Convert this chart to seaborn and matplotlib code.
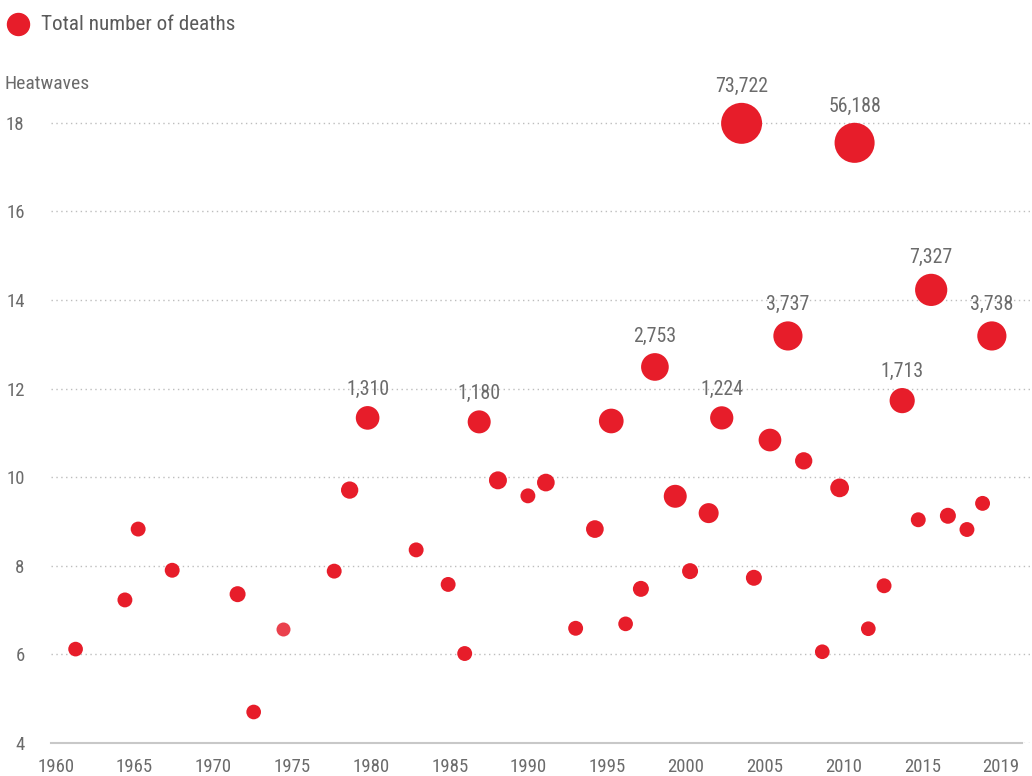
import matplotlib
matplotlib.use('Agg')
import matplotlib.pyplot as plt
from matplotlib.colors import LogNorm
from matplotlib.lines import Line2D
import numpy as np
import pandas as pd
import seaborn as sns

# Heatwave events: position in time (decimal year), heatwave count, total deaths
years = [1961.26, 1964.39, 1965.23, 1967.39, 1971.54, 1972.56, 1974.42, 1977.67,
         1978.65, 1979.79, 1982.87, 1984.90, 1985.95, 1986.87, 1988.06, 1989.96,
         1991.10, 1992.99, 1994.21, 1995.25, 1996.16, 1997.13, 1998.02, 1999.31,
         2000.25, 2001.43, 2002.26, 2003.52, 2004.30, 2005.32, 2006.46, 2007.46,
         2008.64, 2009.74, 2010.69, 2011.56, 2012.56, 2013.71, 2014.73, 2015.55,
         2016.61, 2017.82, 2018.81, 2019.40]
heatwaves = [6.12, 7.23, 8.83, 7.90, 7.36, 4.70, 6.58, 7.88,
             9.71, 11.34, 8.36, 7.58, 6.02, 11.25, 9.93, 9.58,
             9.88, 6.59, 8.83, 11.27, 6.69, 7.48, 12.49, 9.57,
             7.88, 9.19, 11.34, 17.99, 7.73, 10.84, 13.19, 10.37,
             6.06, 9.76, 17.55, 6.58, 7.55, 11.73, 9.04, 14.23,
             9.13, 8.82, 9.41, 13.19]
deaths = [380, 390, 390, 390, 440, 380, 355, 390,
          515, 1310, 390, 390, 390, 1180, 560, 390,
          540, 390, 540, 1570, 380, 440, 2753, 1170,
          440, 740, 1224, 73722, 440, 1120, 3737, 515,
          380, 620, 56188, 380, 390, 1713, 390, 7327,
          440, 390, 390, 3738]

# events whose death toll is printed above the bubble
labelled = [1979.79, 1986.87, 1998.02, 2002.26, 2003.52, 2006.46,
            2010.69, 2013.71, 2015.55, 2019.40]
faded = [1974.42]

tick_years = [1960, 1965, 1970, 1975, 1980, 1985, 1990, 1995, 2000, 2005,
              2010, 2015, 2019.99]
tick_labels = ['1960', '1965', '1970', '1975', '1980', '1985', '1990', '1995',
               '2000', '2005', '2010', '2015', '2019']
y_ticks = [4, 6, 8, 10, 12, 14, 16, 18]

df = pd.DataFrame({'year': years, 'heatwaves': heatwaves, 'deaths': deaths})

RED = '#e71d2a'
GREY = '#6b6b6b'

sns.set_style('white')
plt.rcParams['font.family'] = ['Roboto Condensed', 'Roboto', 'DejaVu Sans']

fig = plt.figure(figsize=(10.32, 7.76), dpi=100)
ax = fig.add_axes([51 / 1032, 1 - 743 / 776, (1030 - 51) / 1032, (743 - 60) / 776])

norm = LogNorm(vmin=355, vmax=73722)
size_range = (101.6, 871)

is_faded = df['year'].isin(faded)
sns.scatterplot(data=df[~is_faded], x='year', y='heatwaves', size='deaths',
                sizes=size_range, size_norm=norm, color=RED, linewidth=0,
                legend=False, ax=ax, zorder=3, clip_on=False)
sns.scatterplot(data=df[is_faded], x='year', y='heatwaves', size='deaths',
                sizes=size_range, size_norm=norm, color='#ea414d', linewidth=0,
                legend=False, ax=ax, zorder=3, clip_on=False)

# death toll labels
for _, row in df[df['year'].isin(labelled)].iterrows():
    area = size_range[0] + np.clip(norm(row['deaths']), 0, 1) * (size_range[1] - size_range[0])
    r = np.sqrt(area) / 2
    ax.annotate(f"{int(row['deaths']):,}", (row['year'], row['heatwaves']),
                xytext=(0, r + 8), textcoords='offset points', ha='center',
                va='baseline', fontsize=14.3, color=GREY)

ax.set_xlim(1959.7, 2021.82)
ax.set_ylim(4, 19.42)
ax.set_xticks(tick_years, tick_labels)
ax.set_yticks(y_ticks)
ax.set_xlabel('')
ax.set_ylabel('')
ax.tick_params(length=0, labelsize=13.5, colors=GREY)
ax.tick_params(axis='x', pad=11)
ax.tick_params(axis='y', pad=19)

ax.yaxis.grid(True, color='#bdbdbd', linestyle=(0, (1, 2.5)), linewidth=1)
ax.xaxis.grid(False)
ax.set_axisbelow(True)
for side in ['left', 'top', 'right']:
    ax.spines[side].set_visible(False)
ax.spines['bottom'].set_color('#c8c8c8')
ax.spines['bottom'].set_linewidth(1.5)
ax.spines['bottom'].set_bounds(1959.7, 2021.3)

fig.text(5 / 1032, 1 - 84 / 776, 'Heatwaves', fontsize=14, color=GREY,
         ha='left', va='center')

# legend
fig.add_artist(Line2D([18 / 1032], [1 - 24 / 776], marker='o', markersize=22 * 0.72,
                      color=RED, linestyle='none', transform=fig.transFigure))
fig.text(41 / 1032, 1 - 24 / 776, 'Total number of deaths', fontsize=15.2,
         color='#5a5a5a', ha='left', va='center')

fig.savefig('out.png', dpi=100)
